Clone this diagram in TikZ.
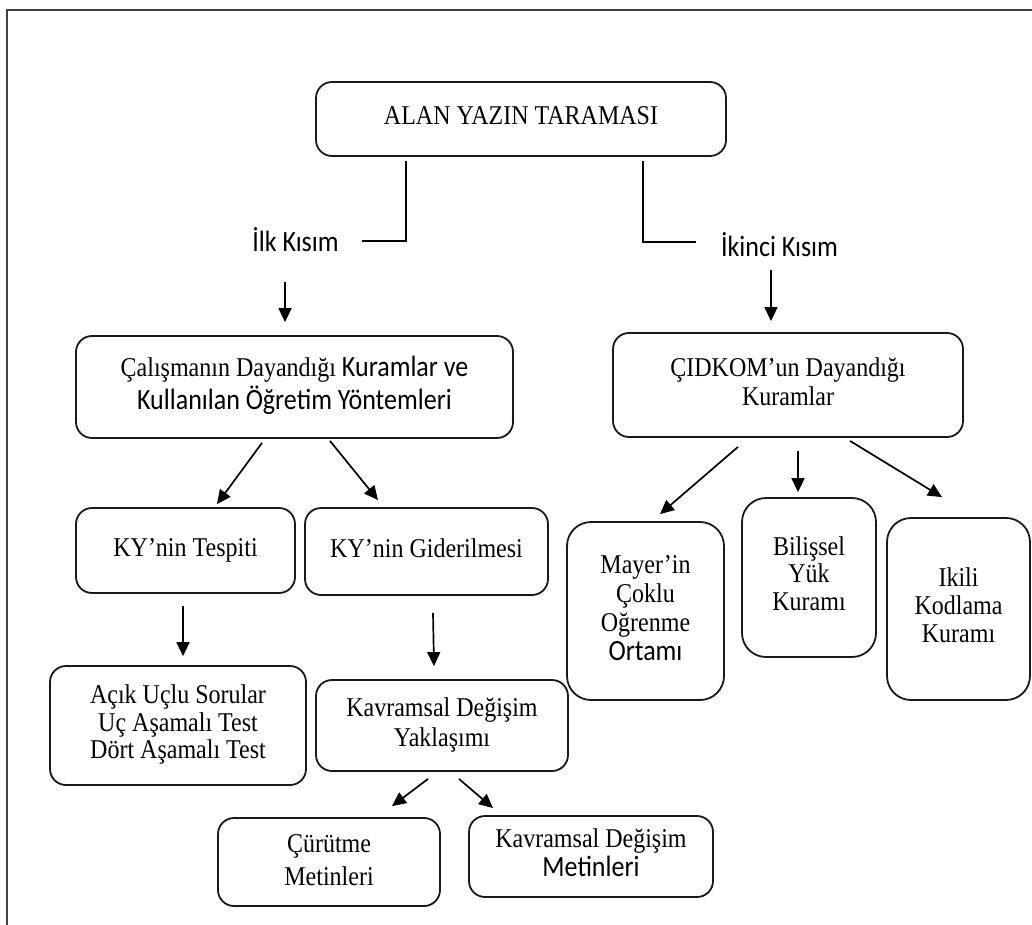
\documentclass[tikz,border=0pt]{standalone}
\usepackage{fontspec}
\usepackage{graphicx}
\setmainfont{Liberation Serif}
\newfontfamily\carl{Carlito}
\usetikzlibrary{arrows.meta}
\newcommand{\sanstxt}{\carl\fontsize{26}{29}\selectfont}
% centred block of lines, slightly stretched upright; #1 = line pitch before stretching
\newcommand{\tx}[2]{\scalebox{1}[1.13]{\fontsize{24}{#1}\selectfont\begin{tabular}{@{}c@{}}#2\end{tabular}}}
\begin{document}
\begin{tikzpicture}[x=1pt,y=-1pt,
  box/.style={draw=black!90, line width=1.8pt, rounded corners=16pt, align=center,
    inner sep=0pt},
  tallbox/.style={box, rounded corners=24pt},
  lbl/.style={inner sep=0pt, font={\carl\fontsize{26}{30}\selectfont}},
  link/.style={line width=1.8pt},
  arr/.style={line width=1.7pt, -{Triangle[length=14pt,width=13pt]}}]
\useasboundingbox (0,0) rectangle (1032,925);

% page frame (top and left edges)
\draw[line width=2.5pt, black!75] (7,925) -- (7,10) -- (1032,10);

% boxes
\node[box, minimum width=410pt, minimum height=74pt] (top) at (521,119) {\tx{26}{ALAN YAZIN TARAMASI}};
\node[lbl] (ilk) at (295.5,240) {\scalebox{1}[1.13]{İlk Kısım}};
\node[lbl] (ikinci) at (779.5,245) {\scalebox{1}[1.13]{İkinci Kısım}};

\node[box, minimum width=437pt, minimum height=102pt] (cal) at (294.5,387)
  {\tx{27.4}{Çalışmanın Dayandığı {\sanstxt Kuramlar ve}\\{\sanstxt Kullanılan Öğretim Yöntemleri}}};
\node[box, minimum width=350pt, minimum height=104pt] (cid) at (788,385)
  {\tx{26.5}{ÇIDKOM’un Dayandığı\\Kuramlar}};

\node[box, minimum width=219pt, minimum height=85pt] (tes) at (185.5,550.5) {\tx{26}{KY’nin Tespiti}};
\node[box, minimum width=243pt, minimum height=87pt] (gid) at (426.5,551.5) {\tx{26}{KY’nin Giderilmesi}};

\node[box, minimum width=256pt, minimum height=119pt] (acik) at (178,725.5)
  {\tx{24.3}{Açık Uçlu Sorular\\Uç Aşamalı Test\\Dört Aşamalı Test}};
\node[box, minimum width=252pt, minimum height=91pt] (kdy) at (442,725.5)
  {\tx{26.5}{Kavramsal Değişim\\Yaklaşımı}};

\node[box, minimum width=222pt, minimum height=88pt] (cur) at (329,862)
  {\tx{29.2}{Çürütme\\Metinleri}};
\node[box, minimum width=244pt, minimum height=81pt] (kdm) at (591,856.5)
  {\tx{24}{Kavramsal Değişim\\{\sanstxt Metinleri}}};

\node[tallbox, minimum width=157pt, minimum height=178pt] (may) at (645.5,611)
  {\tx{25.7}{Mayer’in\\Çoklu\\Oğrenme\\{\sanstxt Ortamı}}};
\node[tallbox, minimum width=134pt, minimum height=159pt] (bil) at (809,577.5)
  {\tx{24.3}{Bilişsel\\Yük\\Kuramı}};
\node[tallbox, minimum width=143pt, minimum height=182pt] (iki) at (958.5,609)
  {\tx{24.8}{Ikili\\Kodlama\\Kuramı}};

% elbow links to the two part labels
\draw[link] ([shift={(-115,4)}]top.south) |- ([shift={(23,1)}]ilk.east);
\draw[link] ([shift={(122,4)}]top.south) |- ([shift={(-25,-3)}]ikinci.west);

% arrows
\draw[arr] ([shift={(-10.5,30)}]ilk.south) -- ([shift={(-9.5,-13)}]cal.north);
\draw[arr] ([shift={(-8.5,13)}]ikinci.south) -- ([shift={(-17,-11)}]cid.north);

\draw[arr] ([shift={(-32.5,4)}]cal.south) -- ([shift={(31.5,-3)}]tes.north);
\draw[arr] ([shift={(35.5,2)}]cal.south) -- ([shift={(-48.5,-7)}]gid.north);

\draw[arr] ([shift={(-2.5,12)}]tes.south) -- ([shift={(5,-9)}]acik.north);
\draw[arr] ([shift={(6.5,17)}]gid.south) -- ([shift={(-8,-13)}]kdy.north);

\draw[arr] ([shift={(-14,7)}]kdy.south) -- ([shift={(63,-11)}]cur.north);
\draw[arr] ([shift={(17,7)}]kdy.south) -- ([shift={(-98,-7)}]kdm.north);

\draw[arr] ([shift={(-50,9)}]cid.south) -- ([shift={(14.5,-7)}]may.north);
\draw[arr] ([shift={(10,13)}]cid.south) -- ([shift={(-11,-5)}]bil.north);
\draw[arr] ([shift={(62,3)}]cid.south) -- ([shift={(-16.5,-20)}]iki.north);
\end{tikzpicture}
\end{document}
